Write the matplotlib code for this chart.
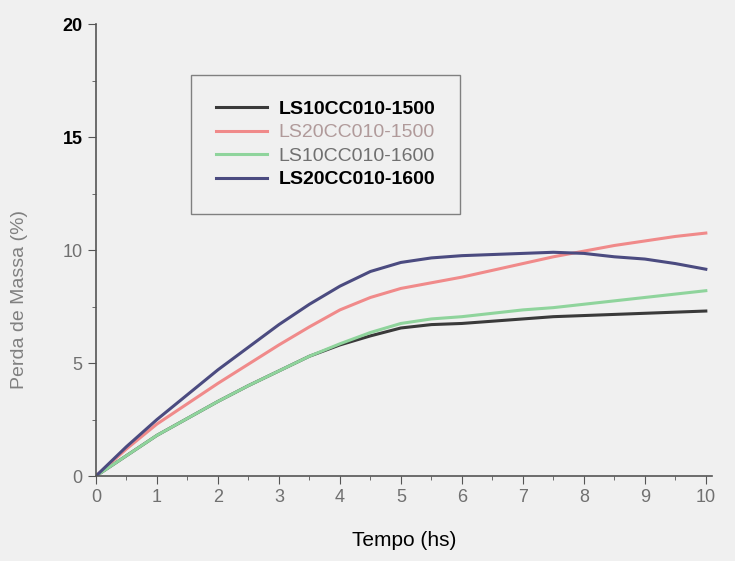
import numpy as np
import matplotlib
matplotlib.use("Agg")
import matplotlib.pyplot as plt
from matplotlib.ticker import MultipleLocator

plt.rcParams["font.family"] = ["Liberation Sans", "DejaVu Sans"]

# time (hs)
tempo = [0, 0.5, 1, 1.5, 2, 2.5, 3, 3.5, 4, 4.5, 5, 5.5, 6, 6.5, 7, 7.5, 8, 8.5, 9, 9.5, 10]

# mass loss (%)
ls10_1500 = [0, 0.9, 1.8, 2.55, 3.3, 4.0, 4.65, 5.3, 5.8, 6.2, 6.55, 6.7, 6.75, 6.85, 6.95, 7.05, 7.1, 7.15, 7.2, 7.25, 7.3]
ls20_1500 = [0, 1.2, 2.3, 3.2, 4.1, 4.95, 5.8, 6.6, 7.35, 7.9, 8.3, 8.55, 8.8, 9.1, 9.4, 9.7, 9.95, 10.2, 10.4, 10.6, 10.75]
ls10_1600 = [0, 0.9, 1.8, 2.55, 3.3, 4.0, 4.65, 5.3, 5.85, 6.35, 6.75, 6.95, 7.05, 7.2, 7.35, 7.45, 7.6, 7.75, 7.9, 8.05, 8.2]
ls20_1600 = [0, 1.3, 2.5, 3.6, 4.7, 5.7, 6.7, 7.6, 8.4, 9.05, 9.45, 9.65, 9.75, 9.8, 9.85, 9.9, 9.85, 9.7, 9.6, 9.4, 9.15]

labels = ["LS10CC010-1500", "LS20CC010-1500", "LS10CC010-1600", "LS20CC010-1600"]
colors = ["#3a3a3a", "#f08a8a", "#8fd49c", "#4b4b80"]
label_colors = ["black", "#b09a9a", "#707070", "black"]
label_weights = ["bold", "normal", "normal", "bold"]

bg = "#f0f0f0"
fig = plt.figure(figsize=(7.35, 5.61), dpi=100, facecolor=bg)
ax = fig.add_axes([0.1306, 0.1515, 0.838, 0.8057], facecolor=bg)

series = [ls10_1500, ls20_1500, ls10_1600, ls20_1600]
for y, c, lab in zip(series, colors, labels):
    ax.plot(tempo, y, color=c, lw=2.2, label=lab, solid_joinstyle="round")

ax.set_xlim(0, 10.1)
ax.set_ylim(0, 20)
for s in ["top", "right"]:
    ax.spines[s].set_visible(False)
for s in ["left", "bottom"]:
    ax.spines[s].set_color("#555555")
    ax.spines[s].set_linewidth(1.2)

ax.xaxis.set_major_locator(MultipleLocator(1))
ax.xaxis.set_minor_locator(MultipleLocator(0.5))
ax.yaxis.set_major_locator(MultipleLocator(5))
ax.yaxis.set_minor_locator(MultipleLocator(2.5))
ax.tick_params(which="major", direction="out", length=6, color="#555555",
               labelsize=13, labelcolor="#707070")
ax.tick_params(which="minor", direction="out", length=3, color="#555555")

for t in ax.get_yticklabels():
    if t.get_text() in ("15", "20"):
        t.set_color("black")
        t.set_fontweight("bold")

ax.set_xlabel("Tempo (hs)", fontsize=15, color="black", labelpad=18)
ax.set_ylabel("Perda de Massa (%)", fontsize=14, color="#808080")
ax.yaxis.set_label_coords(-0.11, 0.39)

leg = ax.legend(loc="upper left", bbox_to_anchor=(0.154, 0.887), borderaxespad=0,
                fancybox=False, facecolor=bg, edgecolor="#808080", framealpha=1,
                fontsize=14, handlelength=2.6, handletextpad=0.6,
                labelspacing=0.3, borderpad=1.3)
leg.get_frame().set_linewidth(1.0)
for t, c, w in zip(leg.get_texts(), label_colors, label_weights):
    t.set_color(c)
    t.set_fontweight(w)

fig.savefig("out.png", dpi=100, facecolor=bg)
